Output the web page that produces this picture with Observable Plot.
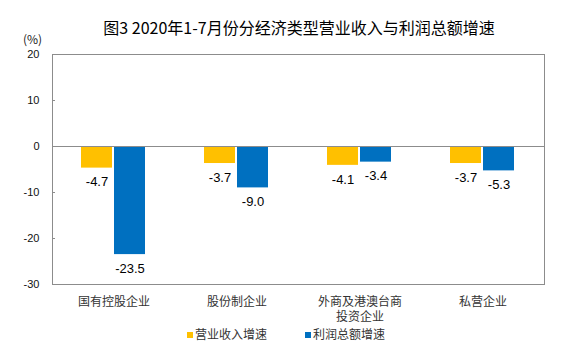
<!DOCTYPE html>
<html>
<head>
<meta charset="utf-8">
<script src="https://cdn.jsdelivr.net/npm/d3@7"></script>
<script src="https://cdn.jsdelivr.net/npm/@observablehq/plot@0.6"></script>
<style>
  html, body { margin: 0; padding: 0; background: #fff; }
  #wrap { position: relative; width: 563px; height: 361px; overflow: hidden; font-family: "Noto Sans CJK SC", "Liberation Sans", sans-serif; }
  #title { position: absolute; left: 0; top: 1px; width: 598px; height: 52px; line-height: 52px; text-align: center; font-size: 16px; color: #000; }
  #unit { position: absolute; left: 23px; top: 31px; font-size: 12px; line-height: 16px; color: #222; }
  #chart { position: absolute; left: 0; top: 34px; }
  #legend { position: absolute; top: 328px; left: 0; width: 563px; height: 12px; font-size: 12px; line-height: 12px; color: #333; }
  .item { position: absolute; top: 0; white-space: nowrap; }
  .sw { display: inline-block; width: 6px; height: 6px; margin-right: 2px; vertical-align: 1px; }
</style>
</head>
<body>
<div id="wrap">
  <div id="title">图3 2020年1-7月份分经济类型营业收入与利润总额增速</div>
  <div id="unit">(%)</div>
  <div id="chart"></div>
  <div id="legend"></div>
</div>
<script>
const categories = ["国有控股企业", "股份制企业", "外商及港澳台商\n投资企业", "私营企业"];
const seriesNames = ["营业收入增速", "利润总额增速"];
const revenueGrowth = [-4.7, -3.7, -4.1, -3.7];
const profitGrowth = [-23.5, -9.0, -3.4, -5.3];
const yTicks = [20, 10, 0, -10, -20, -30];
const colors = ["#FFC000", "#0070C0"];

const data = [];
categories.forEach((c, i) => {
  data.push({cat: c, series: seriesNames[0], value: revenueGrowth[i]});
  data.push({cat: c, series: seriesNames[1], value: profitGrowth[i]});
});

const frameColor = "#8c8c8c";

const chart = Plot.plot({
  width: 563,
  height: 290,
  marginLeft: 51,
  marginRight: 18,
  marginTop: 20,
  marginBottom: 40,
  style: {fontFamily: "'Liberation Sans', Arial, sans-serif", background: "transparent", overflow: "visible"},
  fx: {domain: categories, padding: 0, label: null, axis: null},
  x: {domain: seriesNames, paddingInner: 0.05, paddingOuter: 0.88, axis: null},
  y: {domain: [-30, 20], label: null},
  color: {domain: seriesNames, range: colors},
  marks: [
    Plot.barY(data, {fx: "cat", x: "series", y: "value", fill: "series"}),
    Plot.ruleY([0], {stroke: frameColor}),
    Plot.ruleY([20], {stroke: frameColor}),
    Plot.ruleY([-30], {stroke: frameColor}),
    Plot.frame({anchor: "left", facetAnchor: "left", stroke: frameColor}),
    Plot.frame({anchor: "right", facetAnchor: "right", stroke: frameColor}),
    Plot.text(data, {fx: "cat", x: "series", y: "value", text: d => d.value.toFixed(1), dy: 14, fontSize: 13, fill: "#000"}),
    Plot.axisY({ticks: yTicks, tickFormat: d => String(d), tickSize: -3, tickPadding: 16, stroke: frameColor, fill: "#111", fontSize: 11, label: null}),
    Plot.text(categories, {fx: d => d, text: d => d, frameAnchor: "bottom", lineAnchor: "top", dy: 10, lineHeight: 1.3, fontSize: 12, fill: "#333", fontFamily: "'Noto Sans CJK SC', sans-serif"})
  ]
});
document.getElementById("chart").appendChild(chart);

const legend = document.getElementById("legend");
const legendLeft = [187, 305];
seriesNames.forEach((s, i) => {
  const item = document.createElement("div");
  item.className = "item";
  item.style.left = legendLeft[i] + "px";
  const sw = document.createElement("span");
  sw.className = "sw";
  sw.style.background = colors[i];
  item.appendChild(sw);
  item.appendChild(document.createTextNode(s));
  legend.appendChild(item);
});
</script>
</body>
</html>
